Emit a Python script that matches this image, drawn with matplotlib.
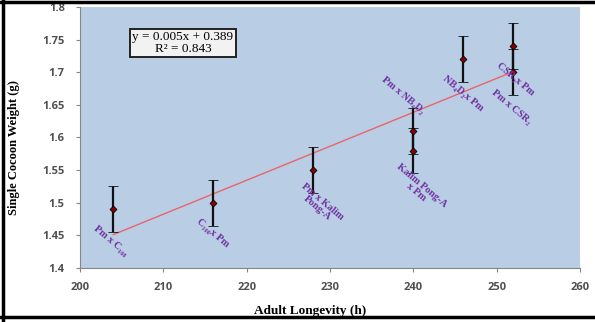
import matplotlib
matplotlib.use("Agg")
import matplotlib.pyplot as plt
import numpy as np
from matplotlib.lines import Line2D

# Data
longevity = [204, 216, 228, 240, 240, 246, 252, 252]
cocoon_wt = [1.49, 1.50, 1.55, 1.61, 1.58, 1.72, 1.74, 1.70]
errors = [0.035, 0.035, 0.035, 0.035, 0.035, 0.035, 0.035, 0.035]

labels = ["Pm x C₁₀₈", "C₁₀₈x Pm", "Pm x Kalim\nPong-A", "Kalim Pong-A\nx Pm",
          "Pm x NB₄D₂", "NB₄D₂x Pm", "CSR₂x Pm", "Pm x CSR₂"]
label_x = [203.7, 215.9, 228.8, 240.7, 238.8, 246.0, 252.2, 251.8]
label_y = [1.441, 1.454, 1.497, 1.521, 1.664, 1.668, 1.690, 1.647]

x_ticks = [200, 210, 220, 230, 240, 250, 260]
y_ticks = [1.4, 1.45, 1.5, 1.55, 1.6, 1.65, 1.7, 1.75, 1.8]
y_ticklabels = ["1.4", "1.45", "1.5", "1.55", "1.6", "1.65", "1.7", "1.75", "1.8"]

eq_text = "y = 0.005x + 0.389\nR² = 0.843"

W, H = 595, 322
fig = plt.figure(figsize=(W / 100, H / 100), dpi=100)
fig.patch.set_facecolor("white")
ax = fig.add_axes([80 / W, 1 - 268 / H, (580 - 80) / W, (268 - 7) / H])
ax.set_facecolor("#B9CDE5")

# Trend line
coef = np.polyfit(longevity, cocoon_wt, 1)
xs = np.array([min(longevity), max(longevity)])
ax.plot(xs, np.polyval(coef, xs), color="#E8656A", lw=1.0, zorder=2)

# Error bars with markers
ax.errorbar(longevity, cocoon_wt, yerr=errors, fmt="D", color="black",
            ecolor="#111111", elinewidth=1.6, capsize=3.5, capthick=1.2,
            markersize=3.5, markerfacecolor="#8B0000", markeredgecolor="black",
            markeredgewidth=0.6, zorder=3)

# Labels
for t, lx, ly in zip(labels, label_x, label_y):
    ax.text(lx, ly, t, rotation=-40, rotation_mode="anchor", ha="center", va="center",
            multialignment="center", color="#7030A0", fontsize=7.3, fontweight="bold",
            family=["Liberation Serif", "DejaVu Serif"], linespacing=1.0, zorder=4)

# Equation box
ax.text(0.105, 0.862, eq_text, transform=ax.transAxes, ha="left", va="center",
        multialignment="center", fontsize=9.5, family=["Liberation Serif", "DejaVu Serif"],
        linespacing=0.95,
        bbox=dict(boxstyle="square,pad=0.2", facecolor="#F2F2F2", edgecolor="#222222", lw=1.4))

ax.set_xlim(200, 260)
ax.set_ylim(1.4, 1.8)
ax.set_xticks(x_ticks)
ax.set_yticks(y_ticks)
ax.set_yticklabels(y_ticklabels)
for s in ["top", "right"]:
    ax.spines[s].set_visible(False)
for s in ["left", "bottom"]:
    ax.spines[s].set_color("#868686")
    ax.spines[s].set_linewidth(0.8)
ax.tick_params(axis="both", colors="#868686", length=3, width=0.8, labelcolor="#505050",
               labelsize=8)
ax.tick_params(axis="x", pad=7)
ax.tick_params(axis="y", pad=8)
for lab in ax.get_xticklabels() + ax.get_yticklabels():
    lab.set_fontweight("bold")
    lab.set_family("Open Sans")

fig.text(310 / W, 1 - 311 / H, "Adult Longevity (h)", ha="center", va="center",
         fontsize=9.5, fontweight="bold", family="Liberation Serif")
fig.text(14 / W, 1 - 148 / H, "Single Cocoon Weight (g)", ha="center", va="center",
         rotation=90, fontsize=9, fontweight="bold", family="Liberation Serif")

# Outer frame lines
fig.add_artist(Line2D([0, 1], [1 - 2 / H, 1 - 2 / H], transform=fig.transFigure, color="black", lw=2.5))
fig.add_artist(Line2D([3 / W, 3 / W], [0, 1], transform=fig.transFigure, color="black", lw=2.5))
fig.add_artist(Line2D([0, 1], [1 - 316.5 / H, 1 - 316.5 / H], transform=fig.transFigure, color="black", lw=2.5))

fig.savefig("out.png", dpi=100)
